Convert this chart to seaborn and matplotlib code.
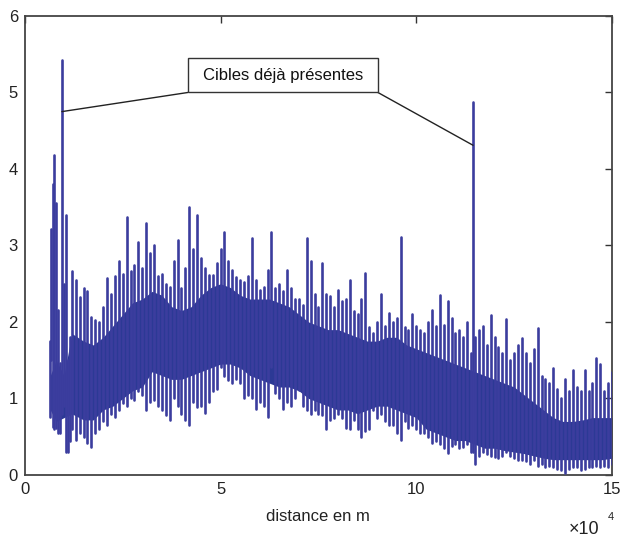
import numpy as np
import pandas as pd
import matplotlib
matplotlib.use("Agg")
import matplotlib.pyplot as plt
from matplotlib.patches import Rectangle
import seaborn as sns

# ---------------- data (distance in m, amplitude) ----------------
# peak positions: early echoes, then one sample every 1000 m, plus the second target
spike_x = ([6400, 6800, 7230, 7490, 7920, 8430, 8900, 9530, 9900, 10550, 11000, 11500]
           + list(range(12000, 114001, 1000)) + [114500] + list(range(115000, 150001, 1000)))
spike_hi = [1.75, 3.22, 3.8, 4.18, 3.55, 2.16, 1.47, 5.42, 2.5, 3.4, 1.5, 1.8,
            # 12000 - 29000
            2.66, 2.55, 2.33, 2.45, 2.4, 2.07, 2.03, 2.0, 2.2, 2.57, 2.37, 2.6, 2.8, 2.63, 3.37, 2.67, 2.75, 3.05,
            # 30000 - 53000
            2.7, 3.29, 2.9, 3.0, 2.6, 2.63, 2.5, 2.46, 2.8, 3.07, 2.44, 2.7, 3.5, 2.95, 3.4, 2.83, 2.7, 2.62,
            2.62, 2.77, 2.95, 3.18, 2.8, 2.68,
            # 54000 - 77000
            2.59, 2.55, 2.52, 2.6, 3.1, 2.55, 2.42, 2.46, 2.68, 3.18, 2.45, 2.5, 2.4, 2.68, 2.45, 2.3, 2.3, 2.22,
            3.1, 2.8, 2.36, 2.2, 2.77, 2.36,
            # 78000 - 102000
            2.34, 2.2, 2.42, 2.27, 2.3, 2.55, 2.15, 2.11, 2.3, 2.64, 1.93, 1.85, 2.0, 2.36, 1.95, 2.12, 2.0, 2.05,
            3.11, 1.93, 1.9, 2.1, 1.95, 1.9, 1.85,
            # 103000 - 114000
            2.0, 2.16, 1.95, 2.35, 1.96, 2.27, 2.05, 1.85, 1.9, 1.8, 2.0, 1.6,
            # second target (114500)
            4.88,
            # 115000 - 126000
            1.8, 1.9, 1.95, 1.7, 2.09, 1.8, 1.67, 1.6, 2.04, 1.5, 1.6, 1.7,
            # 127000 - 150000
            1.79, 1.6, 1.47, 1.65, 1.92, 1.3, 1.25, 1.2, 1.4, 1.12, 1.0, 1.25, 1.1, 1.37, 1.15, 1.1, 1.37, 1.1,
            1.2, 1.53, 1.45, 1.1, 1.2, 1.35]
spike_lo = [0.76, 1.5, 0.63, 0.6, 0.62, 0.55, 0.55, 0.8, 0.9, 0.3, 0.3, 0.45,
            0.6, 0.46, 0.55, 0.5, 0.42, 0.37, 0.55, 0.6, 0.7, 0.65, 0.8, 0.76, 0.85, 0.94, 0.9, 1.0, 0.98, 1.1,
            1.05, 0.85, 0.95, 0.98, 0.9, 0.85, 0.78, 0.72, 1.0, 0.9, 0.8, 0.72, 0.65, 0.95, 0.89, 0.9, 0.81, 0.95,
            1.1, 1.13, 1.41, 1.3, 1.24, 1.2,
            1.25, 1.2, 1.0, 1.05, 1.0, 0.86, 0.95, 0.9, 0.76, 1.41, 1.07, 1.0, 0.86, 0.95, 0.9, 1.0, 1.11, 0.9,
            0.85, 0.8, 0.85, 0.8, 0.78, 0.6,
            0.72, 0.75, 0.8, 0.75, 0.62, 0.6, 0.72, 0.6, 0.5, 0.58, 0.6, 0.85, 0.75, 0.8, 0.7, 0.65, 0.65, 0.55,
            0.46, 0.7, 0.62, 0.65, 0.6, 0.55, 0.55,
            0.5, 0.42, 0.45, 0.4, 0.35, 0.29, 0.38, 0.4, 0.35, 0.36, 0.4, 0.3,
            0.3,
            0.15, 0.25, 0.3, 0.28, 0.25, 0.24, 0.22, 0.25, 0.3, 0.25, 0.22, 0.2,
            0.2, 0.18, 0.15, 0.2, 0.12, 0.15, 0.1, 0.12, 0.1, 0.08, 0.06, 0.03, 0.08, 0.1, 0.1, 0.06, 0.08, 0.1,
            0.1, 0.12, 0.1, 0.12, 0.1, 0.15]

# dense core of the signal
core_x = [6500, 8000, 10000, 12000, 15000, 17500, 20000, 22500, 25000, 27500, 30000, 32500, 35000, 37500,
          40000, 42500, 45000, 47500, 50000, 52500, 55000, 57500, 60000, 62500, 65000, 67500, 70000, 72500,
          75000, 77500, 80000, 82500, 85000, 87500, 90000, 92500, 95000, 97500, 100000, 102500, 105000,
          107500, 110000, 112500, 115000, 117500, 120000, 122500, 125000, 127500, 130000, 132500, 135000,
          137500, 140000, 142500, 145000, 147500, 150000]
core_hi = [1.3, 1.5, 1.3, 1.85, 1.75, 1.7, 1.8, 1.95, 2.1, 2.25, 2.3, 2.4, 2.35, 2.2,
           2.15, 2.2, 2.35, 2.45, 2.5, 2.45, 2.35, 2.3, 2.3, 2.3, 2.25, 2.2, 2.1, 2.0,
           1.95, 1.9, 1.9, 1.85, 1.8, 1.75, 1.75, 1.8, 1.8, 1.7, 1.65, 1.6, 1.55,
           1.5, 1.45, 1.4, 1.35, 1.3, 1.25, 1.2, 1.15, 1.05, 0.95, 0.85, 0.75,
           0.7, 0.7, 0.72, 0.75, 0.75, 0.75]
core_lo = [0.85, 0.7, 0.75, 0.8, 0.72, 0.72, 0.85, 0.9, 1.0, 1.1, 1.15, 1.35, 1.3, 1.25,
           1.25, 1.3, 1.35, 1.4, 1.45, 1.45, 1.4, 1.3, 1.25, 1.2, 1.15, 1.15, 1.1, 1.0,
           0.95, 0.9, 0.85, 0.85, 0.8, 0.85, 0.9, 0.9, 0.85, 0.8, 0.75, 0.6, 0.55,
           0.5, 0.45, 0.45, 0.4, 0.35, 0.35, 0.32, 0.3, 0.28, 0.25, 0.22, 0.2,
           0.2, 0.2, 0.2, 0.2, 0.2, 0.22]

# annotation ("targets already present")
annot_text = "Cibles déjà présentes"
target_x = [9460, 114500]
target_y = [4.75, 4.31]

x_ticks = [0, 50000, 100000, 150000]
x_ticklabels = ["0", "5", "10", "15"]
y_ticks = [0, 1, 2, 3, 4, 5, 6]

# ---------------- figure ----------------
sns.set_style("white")
plt.rcParams["font.family"] = ["Liberation Sans", "DejaVu Sans"]

fig = plt.figure(figsize=(6.21, 5.40), dpi=100)
ax = fig.add_axes([0.040, 0.1204, 0.9455, 0.85])

CORE = "#2c3995"
LINE = "#3b3d9e"

ax.fill_between(core_x, core_lo, core_hi, color=CORE, lw=0, zorder=2)

# each sample: a vertical stroke from its trough to its peak
sig = pd.DataFrame({
    "x": np.repeat(spike_x, 2),
    "y": np.column_stack([spike_lo, spike_hi]).ravel(),
    "id": np.repeat(np.arange(len(spike_x)), 2),
})
sns.lineplot(data=sig, x="x", y="y", units="id", estimator=None, color=LINE,
             lw=1.9, ax=ax, zorder=3, legend=False)

ax.set_xlim(0, 150000)
ax.set_ylim(0, 6)
ax.set_xticks(x_ticks)
ax.set_xticklabels(x_ticklabels)
ax.set_yticks(y_ticks)
ax.set_xlabel("distance en m", fontsize=12, color="#222222", labelpad=9)
ax.set_ylabel("")
ax.tick_params(direction="in", length=5, width=1, colors="#333333", labelsize=12,
               top=True, right=True, labelcolor="#222222", pad=5)
for s in ax.spines.values():
    s.set_visible(True)
    s.set_color("#444444")
    s.set_linewidth(1.3)

# annotation box with leader lines
box_left, box_right, box_bottom, box_top = 41650, 90200, 5.0, 5.45
ax.add_patch(Rectangle((box_left, box_bottom), box_right - box_left, box_top - box_bottom,
                       fc="white", ec="#333333", lw=1.0, zorder=6))
ax.text((box_left + box_right) / 2, (box_bottom + box_top) / 2, annot_text, ha="center", va="center",
        fontsize=12, color="#111111", zorder=7)
ax.plot([box_left, target_x[0]], [box_bottom, target_y[0]], color="#222222", lw=1.0, zorder=5)
ax.plot([box_right, target_x[1]], [box_bottom, target_y[1]], color="#222222", lw=1.0, zorder=5)

fig.text(0.916, 0.004, "×10", fontsize=13, color="#222222", ha="left", va="bottom")
fig.text(0.978, 0.034, "4", fontsize=8, color="#222222", ha="left", va="bottom")

fig.savefig("out.png", dpi=100, facecolor="white")
